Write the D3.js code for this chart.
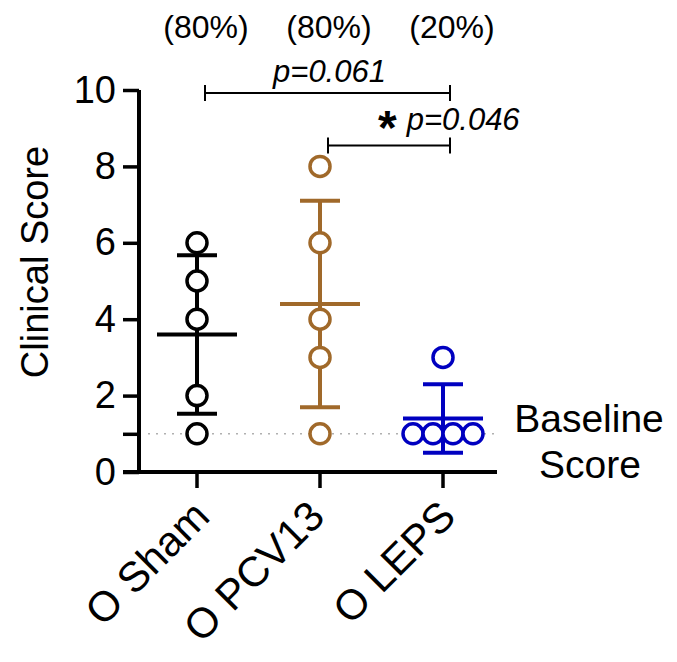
<!DOCTYPE html>
<html>
<head>
<meta charset="utf-8">
<script src="https://cdn.jsdelivr.net/npm/d3@7"></script>
<style>
  body { margin: 0; background: #fff; }
  text { font-family: "Liberation Sans", Arial, sans-serif; }
</style>
</head>
<body>
<div id="chart"></div>
<script>
const groups = ["O Sham", "O PCV13", "O LEPS"]
const colors = ["#000000", "#a0692a", "#0000c0"]
const percents = ["(80%)", "(80%)", "(20%)"]
const scores = [
  [6, 5, 4, 2, 1],
  [8, 6, 4, 3, 1],
  [3, 1, 1, 1, 1]
]
// horizontal jitter of the points, in point widths
const jitter = [
  [0, 0, 0, 0, 0],
  [0, 0, 0, 0, 0],
  [0, -1.5, -0.5, 0.5, 1.5]
]
const yTicks = [0, 2, 4, 6, 8, 10]
const baseline = 1
const comparisons = [
  {from: 0, to: 2, at: 9.92, label: "p=0.061", star: false},
  {from: 1, to: 2, at: 8.55, label: "p=0.046", star: true}
]

const width = 677, height = 662

const svg = d3.select("#chart").append("svg")
    .attr("width", width)
    .attr("height", height)

const x = d3.scalePoint().domain(groups).range([197, 443])
const y = d3.scaleLinear().domain([0, 10]).range([472, 90])

const axisLeft = 139, axisRight = 497

// baseline dotted line
svg.append("line")
    .attr("x1", 148).attr("x2", axisRight)
    .attr("y1", y(baseline)).attr("y2", y(baseline))
    .attr("stroke", "#b0b0b0")
    .attr("stroke-width", 1.5)
    .attr("stroke-dasharray", "2,6")

// y axis
const yAxis = svg.append("g")
    .attr("transform", `translate(${axisLeft},0)`)
    .call(d3.axisLeft(y).tickValues(yTicks.concat([baseline])).tickSize(16).tickPadding(7)
      .tickFormat(d => d === baseline ? "" : d))
yAxis.select(".domain").attr("stroke-width", 4).attr("d", `M0,${y(10)}V${y(0)}`)
yAxis.selectAll(".tick line").attr("stroke-width", 3.5)
yAxis.selectAll(".tick text").attr("font-size", 38).attr("fill", "#000")
    .attr("font-family", "Liberation Sans, Arial, sans-serif")

// x axis
svg.append("line")
    .attr("x1", axisLeft - 16).attr("x2", axisRight)
    .attr("y1", y(0)).attr("y2", y(0))
    .attr("stroke", "#000").attr("stroke-width", 4)
svg.selectAll(".xtick").data(groups).join("line")
    .attr("x1", d => x(d)).attr("x2", d => x(d))
    .attr("y1", y(0)).attr("y2", y(0) + 16)
    .attr("stroke", "#000").attr("stroke-width", 3.5)

svg.selectAll(".xlabel").data(groups).join("text")
    .attr("transform", (d, i) => `translate(${x(d) - 6 - (i === 1 ? 8 : 0)},${y(0) + 26}) rotate(-45)`)
    .attr("text-anchor", "end")
    .attr("dy", "0.7em")
    .attr("font-size", 42)
    .text(d => d)

// y title
svg.append("text")
    .attr("transform", `translate(48,262) rotate(-90)`)
    .attr("text-anchor", "middle")
    .attr("font-size", 38)
    .text("Clinical Score")

// mean and SD per group
const stats = scores.map(s => ({mean: d3.mean(s), sd: d3.deviation(s)}))

groups.forEach((g, i) => {
  const cx = x(g)
  const st = stats[i]
  const gg = svg.append("g").attr("stroke", colors[i]).attr("stroke-width", 4).attr("fill", "none")
  gg.append("line").attr("x1", cx).attr("x2", cx)
      .attr("y1", y(st.mean - st.sd)).attr("y2", y(st.mean + st.sd))
  gg.append("line").attr("x1", cx - 40).attr("x2", cx + 40)
      .attr("y1", y(st.mean)).attr("y2", y(st.mean))
  ;[st.mean - st.sd, st.mean + st.sd].forEach(v => {
    gg.append("line").attr("x1", cx - 20).attr("x2", cx + 20)
        .attr("y1", y(v)).attr("y2", y(v))
  })
  gg.selectAll("circle").data(scores[i]).join("circle")
      .attr("cx", (d, j) => cx + jitter[i][j] * 20)
      .attr("cy", d => y(d))
      .attr("r", 10)
      .attr("fill", "#fff")
      .attr("stroke-width", 3.5)

  svg.append("text")
      .attr("x", cx + 9).attr("y", 38)
      .attr("text-anchor", "middle")
      .attr("font-size", 32)
      .text(percents[i])
})

// comparison brackets
comparisons.forEach(c => {
  const x1 = x(groups[c.from]) + 8, x2 = x(groups[c.to]) + 7, yy = y(c.at)
  const b = svg.append("g").attr("stroke", "#000").attr("stroke-width", 2)
  b.append("line").attr("x1", x1).attr("x2", x2).attr("y1", yy).attr("y2", yy)
  b.append("line").attr("x1", x1).attr("x2", x1).attr("y1", yy - 8).attr("y2", yy + 8)
  b.append("line").attr("x1", x2).attr("x2", x2).attr("y1", yy - 8).attr("y2", yy + 8)
  if (c.star) {
    const t = svg.append("text").attr("x", 378).attr("y", yy - 15).attr("font-size", 31)
    t.append("tspan").attr("font-weight", "bold").attr("font-size", 48).attr("dy", 14).text("*")
    t.append("tspan").attr("font-style", "italic").attr("dx", 10).attr("dy", -14).text(c.label)
  } else {
    svg.append("text").attr("x", (x1 + x2) / 2 + 2).attr("y", yy - 11)
        .attr("text-anchor", "middle").attr("font-size", 31).attr("font-style", "italic")
        .text(c.label)
  }
})

// baseline label
svg.append("text").attr("x", 589).attr("y", 432).attr("text-anchor", "middle")
    .attr("font-size", 39).text("Baseline")
svg.append("text").attr("x", 590).attr("y", 478).attr("text-anchor", "middle")
    .attr("font-size", 39).text("Score")
</script>
</body>
</html>
